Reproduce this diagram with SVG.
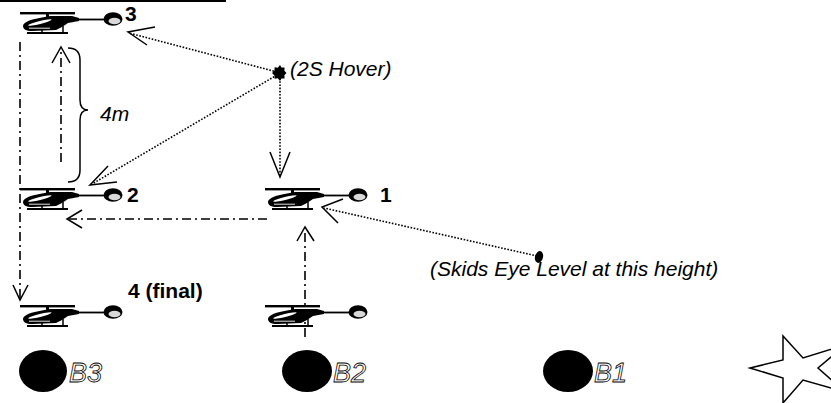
<svg xmlns="http://www.w3.org/2000/svg" width="831" height="403" viewBox="0 0 831 403">
  <style>
    .dot { fill: none; stroke: #000; stroke-width: 1.6; stroke-dasharray: 1.6 1.6; }
    .dd { fill: none; stroke: #000; stroke-width: 1.6; stroke-dasharray: 9 4 2 4; }
    .arr { fill: none; stroke: #000; stroke-width: 1.5; stroke-linejoin: miter; }
    .num { font-family: "Liberation Sans", Arial, sans-serif; font-size: 21px; font-weight: bold; fill: #000; }
    .note { font-family: "Liberation Sans", Arial, sans-serif; font-size: 21px; font-style: italic; fill: #000; }
    .bl { font-family: "Liberation Sans", Arial, sans-serif; font-size: 27px; font-style: italic; fill: #fff; stroke: #000; stroke-width: 0.8; }
  </style>
  <defs>
    <!-- side view helicopter, origin at left end of rotor blade -->
    <g id="heli">
      <rect x="0" y="-1" width="55" height="2.4" fill="#000"/>
      <rect x="26" y="0" width="3" height="5" fill="#000"/>
      <path d="M3,13 C3,9 12,6 22,4.5 L30,3 L52,3 L59,5 L59,8 L48,10 L42,14 L36,17 L12,18 C6,18 3,16 3,13 Z" fill="#000"/>
      <ellipse cx="20" cy="9.5" rx="12" ry="1.5" transform="rotate(-14 20 9.5)" fill="#fff"/>
      <line x1="9" y1="15.2" x2="30" y2="15.2" stroke="#fff" stroke-width="0.9"/>
      <line x1="22" y1="17" x2="22" y2="20" stroke="#000" stroke-width="1.5"/>
      <line x1="43" y1="13" x2="43" y2="20" stroke="#000" stroke-width="1.5"/>
      <line x1="7" y1="20" x2="48" y2="20" stroke="#000" stroke-width="2.2"/>
      <line x1="56" y1="6.5" x2="85" y2="6.5" stroke="#000" stroke-width="1.8"/>
      <ellipse cx="93" cy="6" rx="9.5" ry="6.8" fill="#000"/>
      <ellipse cx="94.5" cy="8" rx="6" ry="3.3" fill="#d8d8d8"/>
    </g>
  </defs>

  <rect width="831" height="403" fill="#fff"/>
  <line x1="0" y1="1" x2="226" y2="1" stroke="#000" stroke-width="2"/>

  <!-- flight path connectors -->
  <g id="connectors">
    <!-- hover point to position 3 -->
    <line class="dot" x1="277" y1="72" x2="129" y2="33"/>
    <polyline class="arr" points="155,27 128,32 147,45"/>
    <!-- hover point to position 2 -->
    <line class="dot" x1="277" y1="75" x2="92" y2="184"/>
    <polyline class="arr" points="108,166 90,185 117,182"/>
    <!-- hover point down to position 1 -->
    <line class="dot" x1="280" y1="78" x2="280" y2="176"/>
    <polyline class="arr" points="270,152 280,177 290,152"/>
    <!-- eye-level marker to position 1 -->
    <line class="dot" x1="537" y1="256" x2="324" y2="208"/>
    <polyline class="arr" points="343,199 322,207 338,223"/>
    <!-- 2 climbs to 3 -->
    <line class="dd" x1="61" y1="162" x2="61" y2="49"/>
    <polyline class="arr" points="52,63 61,47 70,63"/>
    <!-- 1 moves across to 2 -->
    <line class="dd" x1="267" y1="219" x2="69" y2="219"/>
    <polyline class="arr" points="82,210 67,219 82,228"/>
    <!-- B2 climbs to 1 -->
    <line class="dd" x1="305" y1="337" x2="305" y2="229"/>
    <polyline class="arr" points="297,241 305,227 314,241"/>
    <!-- 3 descends to 4 -->
    <line class="dd" x1="20" y1="42" x2="20" y2="298"/>
    <polyline class="arr" points="13,285 20,300 28,285"/>
    <!-- 4 m height brace -->
    <path class="arr" d="M68,48 Q80,48 80,60 L80,100 Q80,110 88,110 Q80,110 80,120 L80,170 Q80,182 68,182"/>
  </g>

  <g id="heli-3">
    <use href="#heli" x="20" y="13"/>
    <text class="num" x="125" y="21">3</text>
  </g>
  <g id="hover">
    <polygon points="286.5,73 284.4,75.3 284.6,78.6 281.5,78.5 280,81 277.8,78.3 274.6,78.7 274.5,75.4 272,73 274.5,70.6 274.6,67.3 277.8,67.7 280,65 281.5,67.5 284.6,67.4 284.4,70.7" fill="#000"/>
    <text class="note" x="290" y="76">(2S Hover)</text>
  </g>
  <text class="note" x="100" y="121">4m</text>
  <g id="heli-2">
    <use href="#heli" x="20" y="189"/>
    <text class="num" x="127" y="202">2</text>
  </g>
  <g id="heli-1">
    <use href="#heli" x="265" y="189"/>
    <text class="num" x="380" y="202">1</text>
  </g>
  <g id="eye-level">
    <ellipse cx="539" cy="257" rx="4" ry="6" transform="rotate(15 539 257)" fill="#000"/>
    <text class="note" x="430" y="276">(Skids Eye Level at this height)</text>
  </g>
  <g id="heli-4">
    <use href="#heli" x="20" y="306"/>
    <text class="num" x="128" y="298">4 (final)</text>
  </g>
  <g id="heli-start">
    <use href="#heli" x="265" y="306"/>
  </g>

  <g id="b3">
    <ellipse cx="43" cy="371" rx="24" ry="21" fill="#000"/>
    <text class="bl" x="69" y="382">B3</text>
  </g>
  <g id="b2">
    <ellipse cx="307" cy="371" rx="25" ry="21" fill="#000"/>
    <text class="bl" x="333" y="382">B2</text>
  </g>
  <g id="b1">
    <ellipse cx="568" cy="371" rx="25" ry="21" fill="#000"/>
    <text class="bl" x="594" y="382">B1</text>
  </g>
  <g id="star">
    <polygon points="750,368 783,360 783,336 803,358 845,345 818,368 845,392 803,380 783,403 783,378" fill="#fff" stroke="#000" stroke-width="1.5"/>
  </g>
</svg>
